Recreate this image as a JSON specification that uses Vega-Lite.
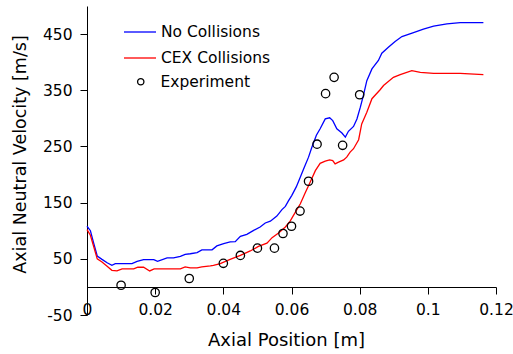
{
  "$schema": "https://vega.github.io/schema/vega-lite/v6.json",
  "width": 409,
  "height": 309,
  "autosize": "none",
  "padding": {"left": 87, "top": 6, "right": 17, "bottom": 39},
  "background": "white",
  "config": {
    "font": "DejaVu Sans",
    "view": {"stroke": null},
    "axis": {"grid": false, "domainColor": "black", "tickColor": "black", "labelColor": "black", "titleColor": "black", "labelFont": "DejaVu Sans", "titleFont": "DejaVu Sans", "titleFontWeight": "normal", "domainWidth": 1, "tickWidth": 1}
  },
  "datasets": {
    "lines": [
      {"x": 0, "y": 108, "series": "No Collisions"},
      {"x": 0.001, "y": 100, "series": "No Collisions"},
      {"x": 0.002, "y": 77, "series": "No Collisions"},
      {"x": 0.003, "y": 55, "series": "No Collisions"},
      {"x": 0.0044, "y": 49, "series": "No Collisions"},
      {"x": 0.0059, "y": 43, "series": "No Collisions"},
      {"x": 0.0073, "y": 38.5, "series": "No Collisions"},
      {"x": 0.0083, "y": 41.5, "series": "No Collisions"},
      {"x": 0.0132, "y": 41.5, "series": "No Collisions"},
      {"x": 0.0147, "y": 45.6, "series": "No Collisions"},
      {"x": 0.0166, "y": 48.6, "series": "No Collisions"},
      {"x": 0.0196, "y": 48.6, "series": "No Collisions"},
      {"x": 0.0207, "y": 45.6, "series": "No Collisions"},
      {"x": 0.0235, "y": 51.6, "series": "No Collisions"},
      {"x": 0.0254, "y": 51.6, "series": "No Collisions"},
      {"x": 0.0274, "y": 54.5, "series": "No Collisions"},
      {"x": 0.0288, "y": 58, "series": "No Collisions"},
      {"x": 0.0303, "y": 59, "series": "No Collisions"},
      {"x": 0.0323, "y": 61, "series": "No Collisions"},
      {"x": 0.0337, "y": 66, "series": "No Collisions"},
      {"x": 0.0367, "y": 66, "series": "No Collisions"},
      {"x": 0.0381, "y": 73, "series": "No Collisions"},
      {"x": 0.0401, "y": 77, "series": "No Collisions"},
      {"x": 0.042, "y": 80, "series": "No Collisions"},
      {"x": 0.0435, "y": 80.6, "series": "No Collisions"},
      {"x": 0.045, "y": 90, "series": "No Collisions"},
      {"x": 0.0469, "y": 93.6, "series": "No Collisions"},
      {"x": 0.0489, "y": 100.7, "series": "No Collisions"},
      {"x": 0.0508, "y": 106.7, "series": "No Collisions"},
      {"x": 0.0523, "y": 113.8, "series": "No Collisions"},
      {"x": 0.0538, "y": 117, "series": "No Collisions"},
      {"x": 0.0557, "y": 126, "series": "No Collisions"},
      {"x": 0.0572, "y": 137.5, "series": "No Collisions"},
      {"x": 0.0582, "y": 143.4, "series": "No Collisions"},
      {"x": 0.0591, "y": 153, "series": "No Collisions"},
      {"x": 0.0601, "y": 163, "series": "No Collisions"},
      {"x": 0.0614, "y": 178, "series": "No Collisions"},
      {"x": 0.0626, "y": 195.6, "series": "No Collisions"},
      {"x": 0.0637, "y": 212, "series": "No Collisions"},
      {"x": 0.065, "y": 231, "series": "No Collisions"},
      {"x": 0.066, "y": 249, "series": "No Collisions"},
      {"x": 0.0673, "y": 270, "series": "No Collisions"},
      {"x": 0.0684, "y": 281.5, "series": "No Collisions"},
      {"x": 0.0699, "y": 299, "series": "No Collisions"},
      {"x": 0.0712, "y": 301, "series": "No Collisions"},
      {"x": 0.0721, "y": 296, "series": "No Collisions"},
      {"x": 0.0733, "y": 281.5, "series": "No Collisions"},
      {"x": 0.0748, "y": 274, "series": "No Collisions"},
      {"x": 0.0758, "y": 266.7, "series": "No Collisions"},
      {"x": 0.0767, "y": 277, "series": "No Collisions"},
      {"x": 0.0782, "y": 285.6, "series": "No Collisions"},
      {"x": 0.0792, "y": 299, "series": "No Collisions"},
      {"x": 0.0802, "y": 320, "series": "No Collisions"},
      {"x": 0.0811, "y": 341, "series": "No Collisions"},
      {"x": 0.0821, "y": 367, "series": "No Collisions"},
      {"x": 0.0836, "y": 388, "series": "No Collisions"},
      {"x": 0.0855, "y": 403, "series": "No Collisions"},
      {"x": 0.0865, "y": 416, "series": "No Collisions"},
      {"x": 0.0885, "y": 427, "series": "No Collisions"},
      {"x": 0.0904, "y": 437, "series": "No Collisions"},
      {"x": 0.0924, "y": 445.6, "series": "No Collisions"},
      {"x": 0.0958, "y": 452.7, "series": "No Collisions"},
      {"x": 0.0987, "y": 459, "series": "No Collisions"},
      {"x": 0.1017, "y": 464, "series": "No Collisions"},
      {"x": 0.1056, "y": 468, "series": "No Collisions"},
      {"x": 0.1095, "y": 470.5, "series": "No Collisions"},
      {"x": 0.1163, "y": 470.5, "series": "No Collisions"},
      {"x": 0, "y": 102, "series": "CEX Collisions"},
      {"x": 0.001, "y": 92, "series": "CEX Collisions"},
      {"x": 0.002, "y": 71, "series": "CEX Collisions"},
      {"x": 0.003, "y": 50, "series": "CEX Collisions"},
      {"x": 0.0044, "y": 44.4, "series": "CEX Collisions"},
      {"x": 0.0059, "y": 36.7, "series": "CEX Collisions"},
      {"x": 0.0073, "y": 29.6, "series": "CEX Collisions"},
      {"x": 0.0088, "y": 28.4, "series": "CEX Collisions"},
      {"x": 0.0103, "y": 32, "series": "CEX Collisions"},
      {"x": 0.0137, "y": 32, "series": "CEX Collisions"},
      {"x": 0.0149, "y": 35, "series": "CEX Collisions"},
      {"x": 0.0166, "y": 35, "series": "CEX Collisions"},
      {"x": 0.0184, "y": 28.4, "series": "CEX Collisions"},
      {"x": 0.0197, "y": 32, "series": "CEX Collisions"},
      {"x": 0.0274, "y": 32, "series": "CEX Collisions"},
      {"x": 0.0288, "y": 35.6, "series": "CEX Collisions"},
      {"x": 0.0303, "y": 33.8, "series": "CEX Collisions"},
      {"x": 0.0323, "y": 33.8, "series": "CEX Collisions"},
      {"x": 0.0337, "y": 35.6, "series": "CEX Collisions"},
      {"x": 0.0362, "y": 37.3, "series": "CEX Collisions"},
      {"x": 0.0371, "y": 38.5, "series": "CEX Collisions"},
      {"x": 0.0391, "y": 41.5, "series": "CEX Collisions"},
      {"x": 0.042, "y": 49, "series": "CEX Collisions"},
      {"x": 0.045, "y": 56, "series": "CEX Collisions"},
      {"x": 0.0479, "y": 64, "series": "CEX Collisions"},
      {"x": 0.0503, "y": 72, "series": "CEX Collisions"},
      {"x": 0.0528, "y": 78, "series": "CEX Collisions"},
      {"x": 0.0543, "y": 87.7, "series": "CEX Collisions"},
      {"x": 0.0562, "y": 96, "series": "CEX Collisions"},
      {"x": 0.0582, "y": 106.7, "series": "CEX Collisions"},
      {"x": 0.0596, "y": 117, "series": "CEX Collisions"},
      {"x": 0.0611, "y": 132.7, "series": "CEX Collisions"},
      {"x": 0.0626, "y": 148, "series": "CEX Collisions"},
      {"x": 0.064, "y": 167, "series": "CEX Collisions"},
      {"x": 0.0655, "y": 186.7, "series": "CEX Collisions"},
      {"x": 0.067, "y": 207, "series": "CEX Collisions"},
      {"x": 0.0684, "y": 220, "series": "CEX Collisions"},
      {"x": 0.0699, "y": 224, "series": "CEX Collisions"},
      {"x": 0.0712, "y": 226, "series": "CEX Collisions"},
      {"x": 0.0721, "y": 225, "series": "CEX Collisions"},
      {"x": 0.0728, "y": 219, "series": "CEX Collisions"},
      {"x": 0.0738, "y": 222, "series": "CEX Collisions"},
      {"x": 0.0753, "y": 226, "series": "CEX Collisions"},
      {"x": 0.0762, "y": 231, "series": "CEX Collisions"},
      {"x": 0.0772, "y": 240, "series": "CEX Collisions"},
      {"x": 0.0782, "y": 246, "series": "CEX Collisions"},
      {"x": 0.0797, "y": 262, "series": "CEX Collisions"},
      {"x": 0.0806, "y": 290, "series": "CEX Collisions"},
      {"x": 0.0821, "y": 311, "series": "CEX Collisions"},
      {"x": 0.0836, "y": 335, "series": "CEX Collisions"},
      {"x": 0.086, "y": 351, "series": "CEX Collisions"},
      {"x": 0.087, "y": 358.5, "series": "CEX Collisions"},
      {"x": 0.0899, "y": 373, "series": "CEX Collisions"},
      {"x": 0.0919, "y": 378, "series": "CEX Collisions"},
      {"x": 0.0953, "y": 385, "series": "CEX Collisions"},
      {"x": 0.0978, "y": 382, "series": "CEX Collisions"},
      {"x": 0.1017, "y": 380, "series": "CEX Collisions"},
      {"x": 0.1095, "y": 380, "series": "CEX Collisions"},
      {"x": 0.1163, "y": 378, "series": "CEX Collisions"}
    ],
    "exp": [
      {"x": 0.01, "y": 3, "label": "Experiment"},
      {"x": 0.02, "y": -10, "label": "Experiment"},
      {"x": 0.03, "y": 15, "label": "Experiment"},
      {"x": 0.04, "y": 42, "label": "Experiment"},
      {"x": 0.045, "y": 56, "label": "Experiment"},
      {"x": 0.05, "y": 69, "label": "Experiment"},
      {"x": 0.055, "y": 69, "label": "Experiment"},
      {"x": 0.0575, "y": 95, "label": "Experiment"},
      {"x": 0.06, "y": 108, "label": "Experiment"},
      {"x": 0.0625, "y": 135, "label": "Experiment"},
      {"x": 0.065, "y": 188, "label": "Experiment"},
      {"x": 0.0675, "y": 254, "label": "Experiment"},
      {"x": 0.07, "y": 344, "label": "Experiment"},
      {"x": 0.0725, "y": 373, "label": "Experiment"},
      {"x": 0.075, "y": 252, "label": "Experiment"},
      {"x": 0.08, "y": 342, "label": "Experiment"}
    ]
  },
  "encoding": {
    "x": {
      "field": "x", "type": "quantitative",
      "scale": {"domain": [0, 0.12], "nice": false, "zero": false},
      "axis": {"title": "Axial Position [m]", "values": [0, 0.02, 0.04, 0.06, 0.08, 0.1, 0.12], "labelExpr": "'' + round(datum.value * 100) / 100", "offset": -28, "tickSize": 7, "labelPadding": 8, "labelFontSize": 15.5, "labelFlush": false, "labelOverlap": false, "labelBound": false, "titleFontSize": 18, "titlePadding": 14, "titleX": 199}
    },
    "y": {
      "field": "y", "type": "quantitative",
      "scale": {"domain": [-50, 500], "nice": false, "zero": false},
      "axis": {"title": "Axial Neutral Velocity [m/s]", "values": [-50, 50, 150, 250, 350, 450], "labelExpr": "'' + datum.value", "tickSize": 7, "labelPadding": 8, "labelFontSize": 15.5, "titleFontSize": 17.5, "titlePadding": 13, "titleY": 148}
    }
  },
  "layer": [
    {
      "data": {"name": "lines"},
      "mark": {"type": "line", "strokeWidth": 1.3, "interpolate": "linear"},
      "encoding": {
        "color": {
          "field": "series", "type": "nominal",
          "scale": {"domain": ["No Collisions", "CEX Collisions"], "range": ["#0000ff", "#ff0000"]},
          "legend": {"title": null, "orient": "none", "legendX": 36, "legendY": 9, "symbolType": "stroke", "symbolSize": 1024, "symbolStrokeWidth": 1.3, "labelFontSize": 15.5, "labelFont": "DejaVu Sans", "labelColor": "black", "rowPadding": -3, "labelOffset": 4}
        }
      }
    },
    {
      "data": {"name": "exp"},
      "mark": {"type": "point", "shape": "circle", "filled": false, "size": 70, "strokeWidth": 1.3, "color": "black", "opacity": 1},
      "encoding": {
        "shape": {
          "field": "label", "type": "nominal",
          "scale": {"range": ["circle"]},
          "legend": {"title": null, "orient": "none", "legendX": 46, "legendY": 68, "symbolSize": 40, "symbolStrokeColor": "black", "symbolStrokeWidth": 1.3, "symbolFillColor": "transparent", "labelFontSize": 15.5, "labelFont": "DejaVu Sans", "labelColor": "black", "labelOffset": 12}
        }
      }
    }
  ]
}
